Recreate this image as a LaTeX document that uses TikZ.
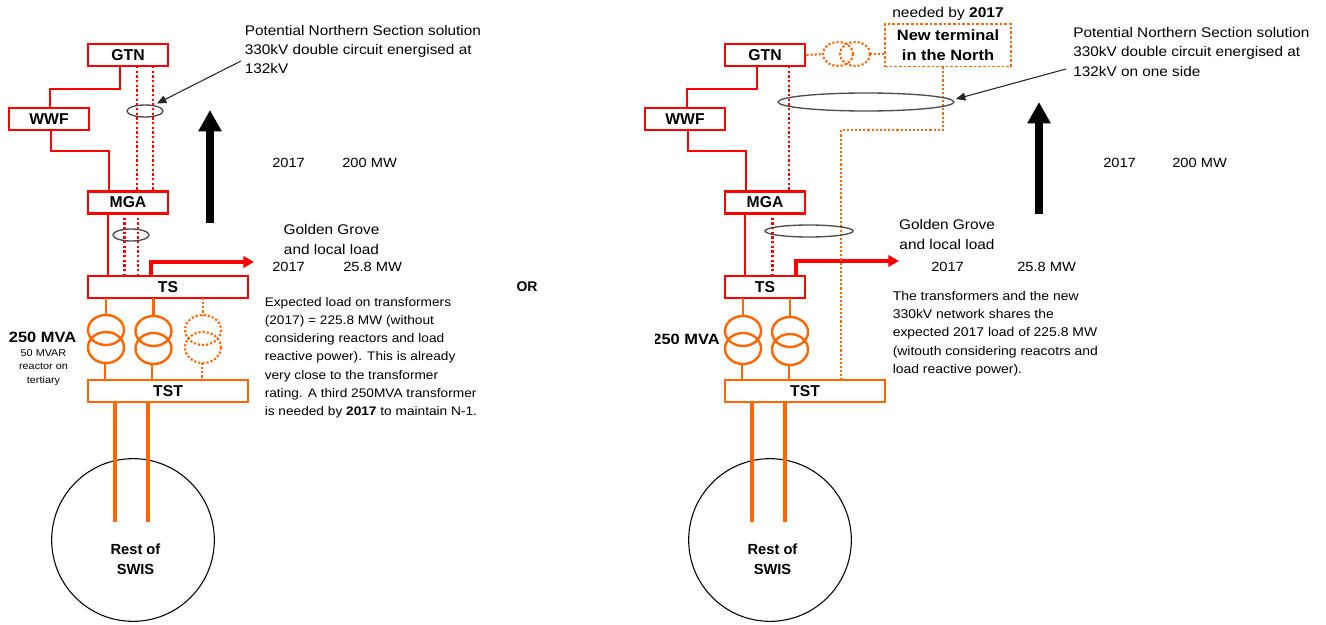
\documentclass[tikz,border=0pt]{standalone}
\usepackage{fontspec}
\setmainfont{Liberation Sans}
\newfontfamily\widefont[FakeStretch=1.1]{Liberation Sans}
\usetikzlibrary{arrows.meta}
\definecolor{busred}{RGB}{255,0,0}
\definecolor{busorange}{RGB}{255,102,0}
\tikzset{
  x=0.75pt,y=-0.75pt,
  redbox/.style={draw=busred,line width=2.1pt,fill=white,inner sep=0pt,font=\fontsize{11.8}{13}\selectfont\bfseries},
  orangebox/.style={draw=busorange,line width=1.8pt,fill=white,inner sep=0pt,font=\fontsize{11.8}{13}\selectfont\bfseries},
  redline/.style={draw=busred,line width=1.9pt},
  reddot/.style={draw=busred,line width=1.8pt,dash pattern=on 1.8pt off 1.7pt},
  orangeline/.style={draw=busorange,line width=1.8pt},
  orangedot/.style={draw=busorange,line width=1.6pt,dash pattern=on 1.6pt off 1.5pt},
  feeder/.style={draw=busorange,line width=2.6pt},
  loadarrow/.style={draw=busred,line width=2.4pt,-{Triangle[length=8pt,width=8.5pt]}},
  growth/.style={draw=black,line width=5.8pt,-{Triangle[length=16pt,width=16.5pt]}},
  grouping/.style={draw=black!70,line width=1pt,fill=none},
  pointer/.style={draw=black!85,line width=0.8pt,-{Triangle[length=7pt,width=6pt]}},
  label/.style={inner sep=0pt,anchor=north west,align=left,font=\widefont\fontsize{10.46}{14}\selectfont},
  labelr/.style={inner sep=0pt,anchor=north west,align=left,font=\widefont\fontsize{10.46}{14.6}\selectfont},
  small/.style={inner sep=0pt,anchor=base west,font=\widefont\fontsize{10}{12}\selectfont},
  centred/.style={inner sep=0pt,align=center,font=\widefont\fontsize{10.5}{15}\selectfont},
  boldtxt/.style={inner sep=0pt,align=center,font=\fontsize{11}{15}\selectfont\bfseries},
  note/.style={inner sep=0pt,anchor=north west,align=left,font=\widefont\fontsize{9.33}{13.65}\selectfont},
  noter/.style={inner sep=0pt,anchor=north west,align=left,font=\widefont\fontsize{9.5}{13.7}\selectfont},
}
\begin{document}
\begin{tikzpicture}
\useasboundingbox (0,0) rectangle (1326,624);
\fill[white] (0,0) rectangle (1326,624);

%% ---------- LEFT ----------
\node[redbox,minimum width=60pt,minimum height=16.5pt] (gtn) at (128,55) {GTN};
\node[redbox,minimum width=60pt,minimum height=16.5pt] (wwf) at (49,119) {WWF};
\node[redbox,minimum width=60pt,minimum height=16pt] (mga) at (128,202.5) {MGA};
\node[redbox,minimum width=120pt,minimum height=16.5pt] (ts) at (168,287) {TS};
\node[orangebox,minimum width=120pt,minimum height=16.5pt] (tst) at (168,391) {TST};
\node[draw=black,line width=0.8pt,circle,minimum size=122pt,inner sep=0pt] (swis) at (133,540) {};
\node[boldtxt] (swistext) at (135.5,559.5) {Rest of\\SWIS};

\draw[redline] (120,66) |- (50,89) -- (50,108);
\draw[redline] (51,130) |- (109,151) -- (109,192);
\draw[reddot] (137,66) -- (137,192);
\draw[reddot] (153,66) -- (153,192);
\draw[redline] (108,213) -- (108,276);
\draw[reddot] (124.5,213) -- (124.5,276);
\draw[reddot] (138,213) -- (138,276);
\draw[loadarrow] (151,276) |- (254,262);

\draw[grouping] (145,111) ellipse[x radius=18,y radius=6];
\draw[grouping] (131,235) ellipse[x radius=18,y radius=6];

% transformers
\draw[orangeline] (106,298) -- (106,315) (105,363) -- (105,380);
\draw[orangeline] (106,330) ellipse[x radius=18,y radius=15] (106,347.5) ellipse[x radius=18,y radius=15.5];
\draw[orangeline] (153.5,298) -- (153.5,316) (152,364) -- (152,380);
\draw[orangeline] (153.5,331) ellipse[x radius=18,y radius=15] (153.5,348.5) ellipse[x radius=18,y radius=15.5];
\draw[orangedot] (203,298) -- (203,315) (202,363) -- (202,380);
\draw[orangedot] (203,330) ellipse[x radius=18,y radius=15] (203,347.5) ellipse[x radius=18,y radius=15.5];

\draw[feeder] (115,402) -- (115,522);
\draw[feeder] (148,402) -- (148,522);

\draw[growth] (210,223) -- (210,110);

\coordinate (Lptr) at (241,61);
\draw[pointer] (Lptr) -- (157,103.5);

\node[label] (lnote) at (244.5,25.5) {Potential Northern Section solution\\330kV double circuit energised at\\132kV};
\node[small] (l2017a) at (272,167) {2017};
\node[small] (l200) at (342,167) {200 MW};
\node[centred] (lgg) at (331.5,239) {Golden Grove\\and local load};
\node[small] (l2017b) at (272,271) {2017};
\node[small] (l258) at (343,271) {25.8 MW};
\node[note] (lexp) at (264.5,297) {Expected load on transformers\\(2017) = 225.8 MW (without\\considering reactors and load\\reactive power). This is already\\very close to the transformer\\rating. A third 250MVA transformer\\is needed by \textbf{2017} to maintain N-1.};
\node[inner sep=0pt,font=\widefont\fontsize{11.2}{13}\selectfont\bfseries] (lmva) at (42.5,337) {250 MVA};
\node[inner sep=0pt,align=center,font=\widefont\fontsize{7.4}{10}\selectfont] (lmvar) at (43.5,367.5) {50 MVAR\\reactor on\\tertiary};

\node[inner sep=0pt,font=\fontsize{10.5}{13}\selectfont\bfseries] (or) at (527,287) {OR};

%% ---------- RIGHT ----------
\node[redbox,minimum width=60pt,minimum height=16.5pt] (gtnr) at (765,55) {GTN};
\node[redbox,minimum width=60pt,minimum height=16.5pt] (wwfr) at (685,119) {WWF};
\node[redbox,minimum width=60pt,minimum height=16pt] (mgar) at (765,202.5) {MGA};
\node[redbox,minimum width=60pt,minimum height=16.5pt] (tsr) at (765,287) {TS};
\node[orangebox,minimum width=120pt,minimum height=16.5pt] (tstr) at (805,391) {TST};
\node[draw=black,line width=0.8pt,circle,minimum size=122pt,inner sep=0pt] (swisr) at (770,540) {};
\node[boldtxt] (swistextr) at (772.5,559.5) {Rest of\\SWIS};

\node[draw=busorange,line width=1pt,dash pattern=on 2pt off 1.5pt,minimum width=94.5pt,minimum height=32pt,inner sep=0pt,align=center,font=\widefont\fontsize{11.2}{15}\selectfont\bfseries] (newterm) at (948,45.5) {New terminal\\in the North};
\node[inner sep=0pt,font=\widefont\fontsize{10.6}{13}\selectfont] (needed) at (948,14) {needed by \textbf{2017}};

\draw[redline] (757,66) |- (687,89) -- (687,108);
\draw[redline] (688,130) |- (746,151) -- (746,192);
\draw[reddot] (789,66) -- (789,192);
\draw[redline] (745,213) -- (745,276);
\draw[reddot] (772.5,213) -- (772.5,276);
\draw[loadarrow] (796,276) |- (899,261);

\draw[orangedot] (943,67) |- (841,130) -- (841,380);

\draw[grouping] (866,102) ellipse[x radius=88,y radius=9];
\draw[grouping] (809,231) ellipse[x radius=44,y radius=6];

\draw[orangeline] (743,298) -- (743,316) (742,364) -- (742,380);
\draw[orangeline] (743,331) ellipse[x radius=18,y radius=15] (743,348.5) ellipse[x radius=18,y radius=15.5];
\draw[orangeline] (790,298) -- (790,317) (789,365) -- (789,380);
\draw[orangeline] (790,332) ellipse[x radius=18,y radius=15] (790,349.5) ellipse[x radius=18,y radius=15.5];

\draw[orangedot] (gtnr.east) -- (823,54);
\draw[orangedot] (838,54) ellipse[x radius=15,y radius=12];
\draw[orangedot] (855,54) ellipse[x radius=15,y radius=12];
\draw[orangedot] (870,54) -- (newterm.west |- 870,54);

\draw[feeder] (752,402) -- (752,522);
\draw[feeder] (785,402) -- (785,522);

\draw[growth] (1039,214) -- (1039,102);

\coordinate (Rptr) at (1066,69);
\draw[pointer] (Rptr) -- (956,99);

\node[labelr] (rnote) at (1073,27) {Potential Northern Section solution\\330kV double circuit energised at\\132kV on one side};
\node[small] (r2017a) at (1103,167) {2017};
\node[small] (r200) at (1172,167) {200 MW};
\node[centred] (rgg) at (947,234) {Golden Grove\\and local load};
\node[small] (r2017b) at (931,271) {2017};
\node[small] (r258) at (1017,271) {25.8 MW};
\node[noter] (rexp) at (892.5,291) {The transformers and the new\\330kV network shares the\\expected 2017 load of 225.8 MW\\(witouth considering reacotrs and\\load reactive power).};
\begin{scope}
  \clip (655,325) rectangle (725,352);
  \node[inner sep=0pt,font=\widefont\fontsize{11.2}{13}\selectfont\bfseries] (rmva) at (686,339) {250 MVA};
\end{scope}
\end{tikzpicture}
\end{document}
